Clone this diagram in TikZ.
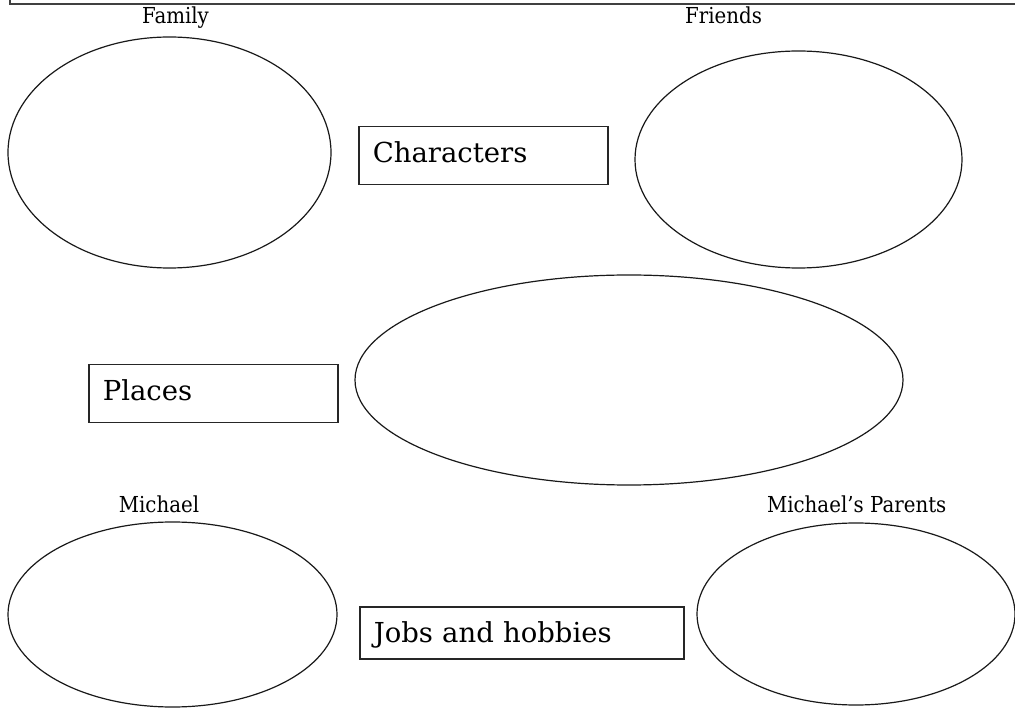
\documentclass[tikz,border=0pt]{standalone}
\usepackage{fontspec}
\setmainfont{DejaVu Serif}
\newfontfamily\labfont[FakeStretch=0.9]{DejaVu Serif}
\usetikzlibrary{shapes.geometric}
\begin{document}
\begin{tikzpicture}[x=1pt,y=-1pt,
  oval/.style={draw=black!90, line width=1.2pt, ellipse, inner sep=0pt, outer sep=0pt},
  box/.style={draw=black!85, line width=1.5pt, rectangle, anchor=north west,
    inner xsep=14pt, inner ysep=0pt, align=left, text height=14pt, text depth=0pt,
    font=\fontsize{27.5}{30}\selectfont},
  lab/.style={anchor=base, font=\labfont\fontsize{22}{24}\selectfont, inner sep=0pt}]
\useasboundingbox (0,0) rectangle (1015,708);
\clip (0,0) rectangle (1015,708);
\fill[white] (0,0) rectangle (1015,708);
% top frame (bottom edge of a box cut by the page)
\draw[line width=1.8pt, black!75] (10,-5) -- (10,4) -- (1020,4);
% ellipses
\node[oval, minimum width=323pt, minimum height=231pt] (family) at (169.5,152.5) {};
\node[oval, minimum width=327pt, minimum height=217pt] (friends) at (798.5,159.5) {};
\node[oval, minimum width=548pt, minimum height=210pt] (placesov) at (629,380) {};
\node[oval, minimum width=329pt, minimum height=185pt] (michael) at (172.5,614.5) {};
\node[oval, minimum width=318pt, minimum height=182pt] (parents) at (856,614) {};
% labels
\node[lab] (familylab) at (175.5,24) {Family};
\node[lab] (friendslab) at (723.5,24) {Friends};
\node[lab] (michaellab) at (159,512) {Michael};
\node[lab] (parentslab) at (856.7,512) {Michael’s Parents};
% boxes
\node[box, minimum width=249pt, minimum height=58pt, text width=221pt] (characters) at (358,126) {Characters};
\node[box, minimum width=249pt, minimum height=58pt, text width=221pt] (places) at (88,364) {Places};
\node[box, minimum width=324pt, minimum height=52pt, text width=296pt, text height=19pt] (jobs) at (359,606) {Jobs and hobbies};
\end{tikzpicture}
\end{document}
